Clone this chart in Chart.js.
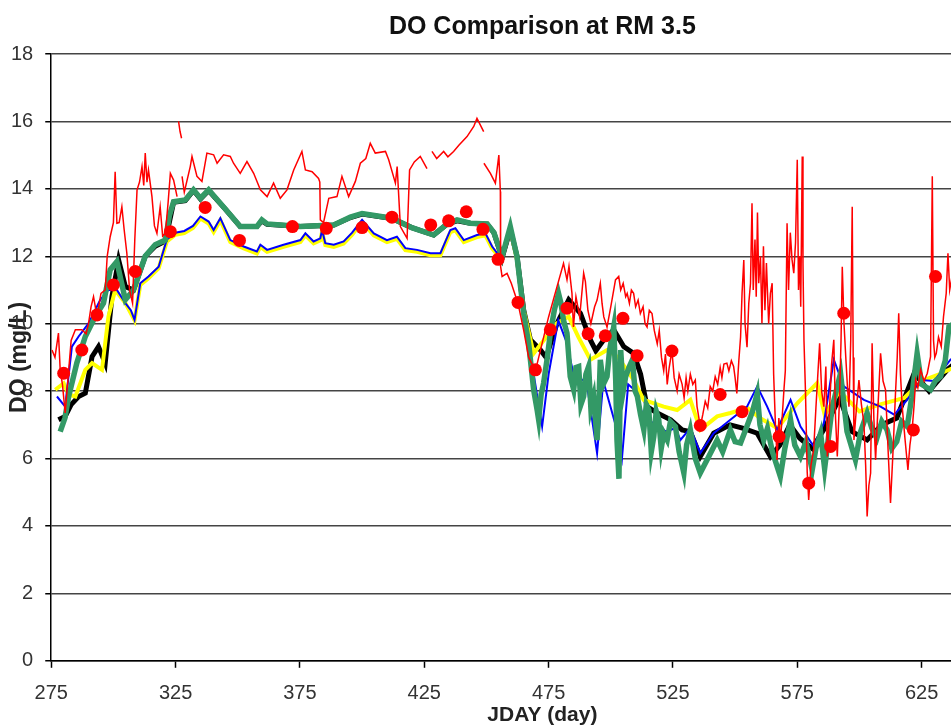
<!DOCTYPE html>
<html>
<head>
<meta charset="utf-8">
<script src="https://cdn.jsdelivr.net/npm/chart.js@4.4.0/dist/chart.umd.min.js"></script>
<style>
  html, body { margin: 0; padding: 0; background: #fff; }
  #wrap { width: 951px; height: 726px; overflow: hidden; }
</style>
</head>
<body>
<div id="wrap"><canvas id="doChart" width="1040" height="726"></canvas></div>
<script>
// [day, DO mg/L]; null = gap in record
var obsLine = [
  [275.3,9.22],[276.5,9.0],[277.9,9.72],[278.6,8.63],[279.5,8.2],[280.6,7.35],[282,8.6],[283,9.5],[284.7,9.82],[287.3,9.82],
  [289,9.7],[290,10.01],[291,10.5],[292,10.8],[293.4,10.21],[295,10.9],[296.7,11.0],[297.5,12.0],[298.7,12.58],[300,13.0],
  [300.7,14.51],[301.4,12.98],[302.3,13.0],[303.4,13.47],[304.3,12.8],[305.4,12.09],[306.5,11.0],[307.7,10.61],[308.6,12.5],[309.5,13.97],
  [310.5,14.2],[311.5,14.66],[312.2,14.1],[312.8,15.06],[313.5,14.2],[314.1,14.56],[315.5,13.77],[316.5,12.9],[317.5,12.68],[318.8,13.47],
  [319.8,12.6],[320.9,12.68],[322,13.6],[322.9,14.46],[324.2,14.26],[325.6,13.77],[325.9,null],
  [326.2,16.0],[326.8,15.7],[327.4,15.5],[327.5,null],
  [327.6,14.37],[328.5,13.9],[330.9,14.66],[331.6,14.96],[333.6,14.37],[335.6,14.22],[336.5,14.6],[337.6,15.06],[340.3,15.01],[341.7,14.76],
  [344.3,15.01],[347,14.96],[348.3,14.76],[351,14.46],[353.7,14.81],[356.4,14.46],[359.1,13.97],[361.8,13.77],[364.4,14.17],[367.1,13.72],
  [369.8,13.97],[372.5,14.56],[375.8,15.11],[377.2,14.56],[379.9,14.51],[382.5,14.31],[383,14.2],[383.2,13.08],[384.5,13.0],[386.6,13.72],
  [389.9,13.77],[391.9,14.37],[394.6,13.77],[397.3,14.22],[399.3,14.76],[401.5,14.9],[403.3,15.35],[405.3,15.06],[409.4,15.11],[410.7,14.86],
  [413.4,14.17],[414.1,14.66],[415.4,12.88],[418.1,12.53],[419.1,14.56],[421,14.8],[423.4,14.96],[426.1,14.6],[427,null],
  [428.1,15.11],[430,14.9],[432.8,15.11],[434.5,14.95],[436.8,15.11],[439,15.3],[442.2,15.55],[444.9,15.85],[446.2,16.09],[448.9,15.7],[448.95,null],
  [449,14.76],[451.6,14.46],[453.6,14.17],[455,15.0],[455.6,13.92],[455.7,11.7],[456.3,11.4],[458.3,11.49],[460,11.2],[462.7,10.6],
  [465,9.8],[467,9.0],[469.7,8.6],[475,10.2],[481,11.79],[482.4,11.3],[483.2,11.7],[484.4,10.9],[485,9.9],[486,10.8],
  [487.5,10.2],[489.1,11.5],[489.8,11.25],[490.8,10.4],[492,10.0],[493.5,10.5],[494.5,10.7],[495.8,11.2],[496.5,10.6],[497.2,10.2],
  [498.5,9.9],[500,10.5],[501.2,11.0],[501.9,11.3],[503.2,11.4],[504,11.0],[505,11.2],[506,10.8],[506.6,10.9],[507.5,10.6],
  [508.3,11.0],[509.2,10.9],[510,10.5],[511,10.7],[511.9,10.3],[513,10.5],[513.8,10.0],[514.6,9.9],[515.5,10.4],[516.6,10.3],
  [517.5,9.8],[518.7,9.4],[519.5,9.8],[520.4,9.0],[521.3,8.6],[522,9.1],[522.7,8.2],[523.5,8.7],[524.6,9.2],[525.5,8.4],
  [526.7,8.0],[527.5,8.5],[528.7,8.2],[529.5,7.8],[530.3,8.4],[531,8.0],[532,8.5],[533,8.2],[534,8.33],[534.7,7.54],
  [536,6.95],[537,7.3],[538,7.7],[539,7.5],[540,8.14],[541,8.0],[542,8.43],[543,8.2],[544,8.7],[544.7,8.4],
  [545.5,8.8],[546.7,8.83],[547.5,8.6],[548.5,8.9],[549.4,8.73],[550,8.4],[550.7,7.93],[551.5,8.9],[552.2,9.6],[552.8,10.9],
  [553.5,11.89],[554,10.0],[554.8,9.3],[555.5,10.6],[556.2,11.2],[556.8,13.57],[557.3,11.0],[558,12.5],[558.5,10.8],[559,13.3],
  [559.5,11.2],[560.2,12.0],[560.8,10.01],[561.4,12.3],[562,10.4],[562.6,11.8],[563.5,10.0],[564.2,10.9],[564.9,11.2],[565.5,8.5],
  [566.2,7.05],[566.9,5.96],[567.6,7.2],[568.2,6.5],[569,7.3],[569.7,8.1],[570.2,8.6],[570.9,12.98],[571.5,11.0],[572.2,12.7],
  [572.9,11.9],[573.6,11.5],[574.3,12.4],[575,14.86],[575.5,11.0],[576,12.0],[576.4,10.5],[577,14.96],[577.3,11.8],[577.7,9.5],
  [578.3,8.0],[579,5.6],[579.6,4.77],[580.5,5.8],[581.6,6.26],[582.5,7.5],[583.2,8.4],[584,9.42],[584.8,8.0],[585.7,7.54],
  [586.5,8.73],[587.1,6.06],[588,7.5],[588.8,8.8],[589.7,9.52],[590.4,7.2],[591.1,6.06],[592,7.8],[592.6,9.5],[593.1,11.69],
  [593.8,10.0],[594.5,9.02],[595.2,8.1],[595.8,7.54],[596.5,9.5],[597.1,13.47],[597.5,9.0],[597.8,6.55],[598.8,7.5],[599.8,8.33],
  [600.8,7.6],[601.8,7.05],[602.5,5.8],[603.1,4.28],[603.8,5.2],[604.5,5.57],[605.1,9.42],[605.8,7.2],[606.5,5.96],[607.5,7.6],
  [608.5,9.12],[609.5,8.3],[610.5,8.04],[611.5,6.3],[612.5,4.68],[613.5,6.2],[614.5,7.93],[615.2,9.0],[615.8,10.31],[616.5,8.5],
  [617.2,7.54],[618.3,6.6],[619.5,5.66],[620.3,6.4],[621.3,6.95],[622,7.6],[622.6,8.33],[623.5,8.1],[624.6,8.63],[626,8.3],
  [627.3,8.53],[628,8.8],[628.6,9.02],[629.3,14.37],[629.8,9.5],[630.3,9.0],[630.9,9.12],[631.8,9.6],[632.9,9.32],[633.8,10.2],
  [634.9,10.9],[635.6,12.09],[636.3,11.0],[637,11.3],[638,11.8]
];

var obsPoints = [
  [280.0,8.53],[287.3,9.22],[293.4,10.26],[300.0,11.15],[308.8,11.55],[322.9,12.73],[336.9,13.45],[350.7,12.47],[372.0,12.88],[385.6,12.83],
  [400.0,12.85],[412.0,13.16],[427.6,12.93],[434.8,13.05],[441.9,13.32],[448.6,12.80],[454.7,11.91],[462.7,10.63],[469.7,8.63],[475.7,9.82],
  [482.4,10.46],[490.9,9.70],[497.8,9.64],[504.9,10.16],[510.6,9.05],[524.6,9.19],[536.0,6.98],[544.0,7.90],[552.8,7.39],[567.7,6.65],
  [579.6,5.27],[588.4,6.36],[593.7,10.31],[621.7,6.85],[630.6,11.40]
];

var greenLine = [
  [278.6,6.8],[280.5,7.2],[282,7.84],[285.3,8.84],[288.7,9.62],[292.7,10.21],[296,10.61],[298.7,11.6],[301.4,11.84],[303,11.3],
  [304.8,10.71],[308.1,11.0],[312.8,12.0],[316.8,12.34],[320.9,12.48],[322.5,13.2],[324.2,13.62],[328.9,13.67],[332.2,13.97],[335,13.72],
  [338.3,13.97],[345,13.4],[351,12.88],[357.7,12.88],[359.7,13.08],[361.8,12.96],[375.2,12.88],[388.6,12.93],[395.3,13.16],[400,13.27],
  [412,13.13],[420,12.85],[428.8,12.63],[434.1,12.95],[438.2,13.08],[443.5,12.98],[450.3,12.96],[453,12.7],[456.3,11.99],[459.6,12.88],
  [462.3,11.99],[465,10.3],[467,9.4],[469,8.04],[470.4,7.44],[471,7.15],[472,7.9],[473,8.24],[474.5,9.0],[475.7,9.72],
  [477.3,10.4],[479,10.9],[480,10.6],[481,10.1],[482.4,9.72],[483.7,8.43],[485.1,8.04],[486,8.7],[487.1,8.73],[488,7.6],
  [489.1,7.84],[490,8.5],[491.1,8.73],[492,7.5],[493.1,7.84],[494.5,6.55],[495.2,7.6],[495.8,8.93],[497,8.2],[498.5,8.43],
  [499.5,9.2],[501.2,9.91],[502,8.3],[502.5,6.55],[503.3,5.4],[504,9.22],[505,8.0],[506,8.43],[507.3,8.7],[508.7,8.93],
  [509.8,8.0],[510.7,7.84],[512,7.3],[513.3,6.85],[514.3,7.6],[515.3,7.44],[516.3,6.2],[517.3,6.65],[518.3,7.4],[519.3,7.15],
  [520.3,6.3],[521.3,6.75],[522.7,6.55],[524,7.1],[526,6.95],[527.5,6.2],[529.4,5.57],[530.5,6.4],[532,6.85],[534,6.0],
  [536,5.57],[539,6.0],[542.8,6.55],[545,6.2],[548.1,6.85],[550,6.5],[552.2,6.46],[555,7.0],[557,7.4],[558.9,7.93],
  [560,7.0],[561.5,6.55],[563,6.9],[565,6.2],[568.2,5.47],[570,6.3],[572.3,7.15],[574,6.4],[576.3,6.06],[578.5,6.5],
  [581,5.66],[582.5,6.3],[584.4,6.75],[586,5.7],[589,7.5],[592.4,8.53],[595,6.8],[598.4,5.96],[600.5,6.8],[603.1,7.35],
  [605,6.9],[607,6.6],[609,7.1],[611.1,6.85],[613,6.3],[615,6.5],[617,7.1],[619.2,6.95],[621,7.8],[623.2,9.12],
  [625,8.2],[628.6,8.04],[630.5,8.3],[632.6,8.43],[634.5,8.9],[636,9.91],[638,10.0]
];

var blueLine = [
  [277.3,7.84],[280.6,7.54],[283.3,9.32],[286,9.62],[290,10.01],[294.7,10.71],[298,11.0],[301.4,11.0],[304.8,10.61],[307,10.4],
  [308.5,10.11],[310.8,11.2],[314.1,11.4],[318.2,11.69],[321.5,12.5],[324.9,12.7],[328.5,12.75],[332,12.9],[335,13.18],[338.3,13.03],
  [340.3,12.78],[343,13.13],[347,12.48],[352.4,12.29],[357.7,12.14],[359.1,12.34],[361.8,12.19],[368.4,12.34],[375.2,12.48],[377.2,12.68],
  [380.5,12.44],[383.2,12.53],[383.9,12.78],[385.2,12.39],[388.6,12.34],[392.6,12.44],[396,12.7],[400,13.08],[404.7,12.68],[410,12.48],
  [414,12.58],[417.4,12.24],[422.1,12.19],[427.5,12.09],[431.5,12.09],[435.5,12.78],[437.5,12.83],[440.9,12.48],[446.2,12.63],[449.6,12.68],
  [452.3,12.29],[456.3,11.9],[459.6,12.7],[462.3,11.9],[465,10.2],[469,8.5],[472.4,6.95],[475,8.5],[478.9,10.1],[482,9.5],
  [486,8.2],[490,8.4],[494.5,6.16],[497,8.3],[502.5,6.85],[504.5,6.0],[507,8.2],[510,8.0],[514,7.0],[518,7.1],
  [522,6.8],[526,6.9],[528,6.55],[532,6.9],[536,6.16],[541.4,6.75],[548.1,7.15],[554.8,7.54],[558.9,8.14],[562.9,7.54],
  [566.9,6.85],[572.3,7.74],[576.3,6.95],[581.6,6.36],[585.7,7.05],[589.7,8.93],[593.7,8.14],[601.8,7.74],[608.5,7.54],[614,7.3],
  [619.2,7.74],[624.6,8.33],[630,8.3],[636.6,8.93],[638,9.0]
];

var yellowLine = [
  [276.6,8.04],[280,8.23],[282,7.9],[284.7,7.84],[288.7,8.63],[291.4,8.83],[295.4,8.63],[298,10.21],[300.7,11.0],[304.8,10.61],
  [308.5,10.1],[310.8,11.15],[314.1,11.35],[318.2,11.65],[321.5,12.44],[324.9,12.64],[328.5,12.69],[332,12.84],[335,13.12],[338.3,12.97],
  [340.3,12.72],[343,13.07],[347,12.42],[352.4,12.23],[357.7,12.08],[359.1,12.28],[361.8,12.13],[368.4,12.28],[375.2,12.42],[377.2,12.62],
  [380.5,12.38],[383.2,12.47],[383.9,12.72],[385.2,12.33],[388.6,12.28],[392.6,12.38],[396,12.64],[400,13.02],[404.7,12.62],[410,12.42],
  [414,12.52],[417.4,12.18],[422.1,12.13],[427.5,12.03],[431.5,12.03],[435.5,12.72],[437.5,12.77],[440.9,12.42],[446.2,12.57],[449.6,12.62],
  [452.3,12.23],[456,11.9],[459.6,12.8],[462.3,11.9],[465,10.4],[469,9.12],[473,9.5],[478,10.0],[483.1,10.21],[487,9.6],
  [491.8,8.93],[498.5,9.22],[503,9.0],[509.2,8.33],[513.2,7.74],[521.3,7.54],[526.7,7.44],[532,7.74],[536,6.85],[542.8,7.25],
  [548.1,7.35],[555,7.5],[560,7.2],[567,6.9],[575,7.64],[583,8.24],[586,7.3],[592,8.0],[600,7.4],[608,7.6],
  [618,7.8],[625,8.3],[632,8.5],[638,8.7]
];

var blackLine = [
  [277.9,7.15],[280.6,7.25],[283,7.6],[286,7.84],[288.7,7.94],[291.4,9.02],[294,9.32],[296.7,8.83],[299.4,10.8],[302.1,11.89],
  [304.8,11.1],[308.1,11.0],[312.8,12.0],[316.8,12.3],[320.9,12.45],[324.2,13.6],[328.9,13.65],[332.2,13.95],[335,13.7],[338.3,13.95],
  [345,13.4],[351,12.88],[357.7,12.88],[359.7,13.05],[361.8,12.95],[375.2,12.88],[388.6,12.93],[395.3,13.15],[400,13.25],[412,13.12],
  [420,12.85],[428.8,12.63],[434.1,12.95],[438.2,13.05],[443.5,12.98],[450.3,12.95],[453,12.7],[456.3,11.95],[459.6,12.8],[462.3,12.0],
  [465,10.4],[467.7,9.52],[471.7,9.22],[474,9.0],[478.4,10.01],[483.1,10.71],[487.8,10.31],[491.8,9.52],[494,9.2],[497.2,9.52],
  [501.2,9.82],[505.2,9.32],[509.2,9.12],[512,8.5],[514.6,7.54],[518.7,7.35],[524.1,7.15],[528.7,6.85],[532,6.8],[536,6.06],
  [541.4,6.75],[548,7.0],[553,6.9],[558.9,6.75],[564.2,6.06],[568,6.4],[572,7.0],[576,6.6],[581,6.3],[586,6.9],
  [592,7.8],[597,6.8],[603.1,6.55],[609,7.0],[615,7.2],[622,8.53],[628,8.0],[635.3,8.63],[638,8.8]
];

var xTicks = [275, 325, 375, 425, 475, 525, 575, 625];
var yTicks = [0, 2, 4, 6, 8, 10, 12, 14, 16, 18];

function toXY(arr) {
  return arr.map(function (p) { return { x: p[0], y: p[1] }; });
}

var fontFam = "Arial, 'Liberation Sans', sans-serif";

var ctx = document.getElementById("doChart");
var myChart = new Chart(ctx, {
  type: 'line',
  data: {
    datasets: [
      {
        label: 'Data points',
        data: toXY(obsPoints),
        showLine: false,
        pointRadius: 6.5,
        pointBackgroundColor: '#ff0000',
        pointBorderWidth: 0,
        borderColor: '#ff0000'
      },
      {
        label: 'Data',
        data: toXY(obsLine),
        borderColor: '#ff0000',
        borderWidth: 1.5,
        pointRadius: 0,
        spanGaps: false
      },
      {
        label: 'Model 4',
        data: toXY(greenLine),
        borderColor: '#339966',
        borderWidth: 5.5,
        pointRadius: 0
      },
      {
        label: 'Model 3',
        data: toXY(blueLine),
        borderColor: '#0000ff',
        borderWidth: 2,
        pointRadius: 0
      },
      {
        label: 'Model 2',
        data: toXY(yellowLine),
        borderColor: '#ffff00',
        borderWidth: 4,
        pointRadius: 0
      },
      {
        label: 'Model 1',
        data: toXY(blackLine),
        borderColor: '#000000',
        borderWidth: 5,
        pointRadius: 0
      }
    ]
  },
  options: {
    responsive: false,
    animation: false,
    layout: { padding: { left: 0, right: 5, top: 0, bottom: 0 } },
    elements: { line: { tension: 0 } },
    plugins: {
      legend: { display: false },
      tooltip: { enabled: false },
      title: {
        display: true,
        fullSize: false,
        text: 'DO Comparison at RM 3.5',
        color: '#111',
        font: { family: fontFam, size: 25, weight: 'bold' },
        padding: { top: 12, bottom: 12 }
      }
    },
    scales: {
      x: {
        type: 'linear',
        min: 275,
        max: 670,
        afterBuildTicks: function (axis) {
          axis.ticks = xTicks.map(function (v) { return { value: v }; });
        },
        grid: { drawOnChartArea: false, drawTicks: true, tickLength: 7, tickColor: '#000', tickWidth: 1.5 },
        border: { color: '#000', width: 1.5 },
        ticks: { color: '#333', padding: 14, maxRotation: 0, font: { family: fontFam, size: 20 } },
        title: {
          display: true,
          text: 'JDAY (day)',
          color: '#222',
          font: { family: fontFam, size: 21, weight: 'bold' },
          padding: { top: -17, bottom: -2 }
        }
      },
      y: {
        min: 0,
        max: 18,
        afterBuildTicks: function (axis) {
          axis.ticks = yTicks.map(function (v) { return { value: v }; });
        },
        grid: { color: '#444', lineWidth: 1.5, drawTicks: true, tickLength: 6, tickColor: '#000', tickWidth: 1.5 },
        border: { color: '#000', width: 1.5 },
        ticks: { color: '#333', padding: 12, font: { family: fontFam, size: 20 } },
        title: {
          display: true,
          text: 'DO (mg/L)',
          color: '#222',
          font: { family: fontFam, size: 23, weight: 'bold' },
          padding: { top: 6, bottom: -34.6 }
        }
      }
    }
  }
});
</script>
</body>
</html>
